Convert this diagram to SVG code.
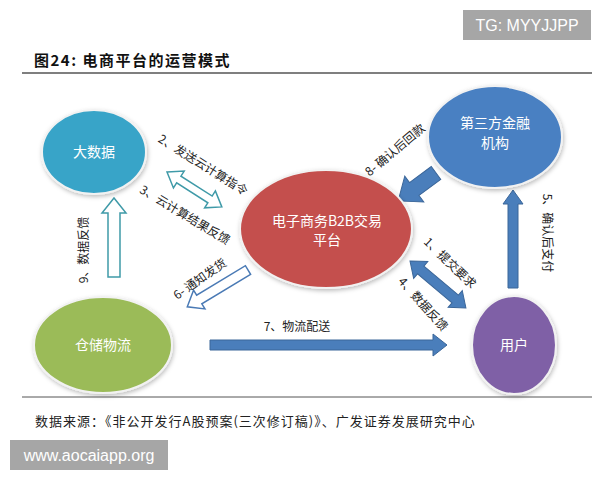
<svg xmlns="http://www.w3.org/2000/svg" width="600" height="480" viewBox="0 0 600 480">
<defs>
<style>
.cjk{font-family:"Noto Sans CJK SC","Liberation Sans",sans-serif}
.lbl{font-family:"Noto Sans CJK SC","Liberation Sans",sans-serif;font-size:12px;fill:#222;text-anchor:middle}
.ntx{font-family:"Noto Sans CJK SC","Liberation Sans",sans-serif;font-size:14px;fill:#fff;text-anchor:middle}
.node{stroke:#f2f2f2;stroke-width:2;filter:url(#sh)}
.hollowT{fill:#fff;stroke:#3f9aa8;stroke-width:1.5;stroke-linejoin:miter}
.hollowB{fill:#fff;stroke:#4a7ab5;stroke-width:1.5}
.solid{fill:#4a7ebb;stroke:#3b6699;stroke-width:1}
</style>
<filter id="sh" x="-20%" y="-20%" width="140%" height="140%">
<feDropShadow dx="1" dy="2" stdDeviation="2" flood-color="#000" flood-opacity="0.25"/>
</filter>
</defs>
<rect width="600" height="480" fill="#fff"/>
<rect x="463" y="10" width="128" height="30" fill="#a6a6a6"/>
<text x="527" y="31" font-family="Liberation Sans, Arial, sans-serif" font-size="16" fill="#fff" text-anchor="middle">TG: MYYJJPP</text>
<text x="34" y="66" class="cjk" font-size="15" font-weight="bold" letter-spacing="1.5" fill="#111">图24:  电商平台的运营模式</text>
<line x1="22" y1="73" x2="592" y2="73" stroke="#555" stroke-width="1.5"/>

<g id="connectors">
<polygon class="hollowT" transform="translate(167,172) rotate(32.5)" points="0,0 14,-10 14,-4 51,-4 51,-10 65,0 51,10 51,4 14,4 14,10"/>
<polygon class="hollowT" transform="translate(114,277) rotate(-90)" points="0,-6 64,-6 64,-12 79,0 64,12 64,6 0,6"/>
<polygon class="hollowB" transform="translate(248,270) rotate(148.8)" points="0,-5 57,-5 57,-11 71,0 57,11 57,5 0,5"/>
<polygon class="solid" transform="translate(210,345)" points="0,-5 223,-5 223,-11 237,0 223,11 223,5 0,5"/>
<polygon class="solid" transform="translate(436,173) rotate(143.6)" points="0,-8 27,-8 27,-16 47,0 27,16 27,8 0,8"/>
<polygon class="solid" transform="translate(513,288) rotate(-90)" points="0,-5 84,-5 84,-10 98,0 84,10 84,5 0,5"/>
<polygon class="solid" transform="translate(410,261) rotate(40)" points="0,0 14,-11 14,-5 59,-5 59,-11 73,0 59,11 59,5 14,5 14,11"/>
<text class="lbl" transform="translate(203,165) rotate(32)" dy=".35em">2、发送云计算指令</text>
<text class="lbl" transform="translate(185,215) rotate(31)" dy=".35em">3、云计算结果反馈</text>
<text class="lbl" transform="translate(200,279) rotate(-35)" dy=".35em">6- 通知发货</text>
<text class="lbl" transform="translate(395,150) rotate(-40)" dy=".35em">8- 确认后回款</text>
<text class="lbl" transform="translate(547,233) rotate(90)" dy=".35em">5、确认后支付</text>
<text class="lbl" transform="translate(450,263) rotate(44)" dy=".35em">1、提交要求</text>
<text class="lbl" transform="translate(423,304) rotate(48)" dy=".35em">4、数据反馈</text>
<text class="lbl" transform="translate(84,250) rotate(-90)" dy=".35em">9、数据反馈</text>
<text class="lbl" x="297" y="327" dy=".35em">7、物流配送</text>
</g>

<g id="bigdata">
<ellipse class="node" cx="94" cy="152" rx="52" ry="42" fill="#38a4c8"/>
<text class="ntx" x="94" y="157">大数据</text>
</g>
<g id="finance">
<ellipse class="node" cx="495" cy="137" rx="67" ry="51" fill="#4a80c2"/>
<text class="ntx" x="495" y="128">第三方金融</text>
<text class="ntx" x="495" y="148">机构</text>
</g>
<g id="platform">
<ellipse class="node" cx="326" cy="229" rx="86" ry="59" fill="#c4504d"/>
<text class="ntx" x="327" y="226" font-size="13">电子商务B2B交易</text>
<text class="ntx" x="327" y="245" font-size="13">平台</text>
</g>
<g id="logistics">
<ellipse class="node" cx="103" cy="345" rx="69" ry="48" fill="#9bbb59"/>
<text class="ntx" x="103" y="350">仓储物流</text>
</g>
<g id="user">
<ellipse class="node" cx="514" cy="345" rx="42" ry="49" fill="#7f60a6"/>
<text class="ntx" x="514" y="350">用户</text>
</g>

<line x1="22" y1="397" x2="592" y2="397" stroke="#555" stroke-width="1"/>
<text x="35" y="426" class="cjk" font-size="13" letter-spacing="1" fill="#222">数据来源：《非公开发行A股预案(三次修订稿)》、广发证券发展研究中心</text>
<rect x="10" y="440" width="158" height="30" fill="#a6a6a6"/>
<text x="89" y="461" font-family="Liberation Sans, Arial, sans-serif" font-size="16" fill="#fff" text-anchor="middle">www.aocaiapp.org</text>
</svg>
